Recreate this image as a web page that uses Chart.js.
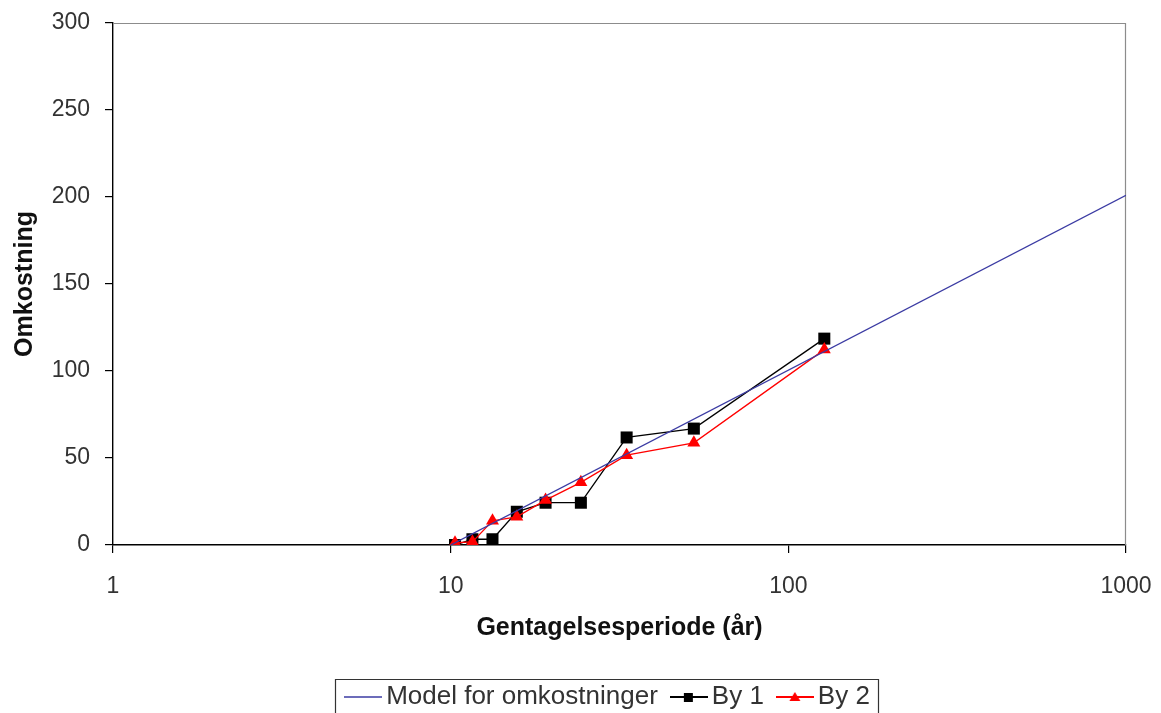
<!DOCTYPE html>
<html>
<head>
<meta charset="utf-8">
<script src="https://cdn.jsdelivr.net/npm/chart.js@4.4.1/dist/chart.umd.min.js"></script>
<style>
  html, body { margin: 0; padding: 0; background: #ffffff; }
  #wrap { width: 1161px; height: 713px; position: relative; }
</style>
</head>
<body>
<div id="wrap"><canvas id="c" width="1161" height="713"></canvas></div>
<script>
// ---- data ----
const periods = [10.3, 11.6, 13.3, 15.7, 19.1, 24.3, 33.2, 52.5, 127.8];
const by1Values = [0, 3.3, 3.3, 19.1, 24.3, 24.3, 61.8, 66.9, 118.6];
const by2Values = [1.3, 1.8, 13.9, 16.2, 25.8, 36, 51.6, 58.7, 112.3];
const modelPeriods = [10, 1000];
const modelValues = [0, 201];
const xTickValues = [1, 10, 100, 1000];
const yTickValues = [0, 50, 100, 150, 200, 250, 300];
const seriesNames = ['Model for omkostninger', 'By 1', 'By 2'];
const xTitle = 'Gentagelsesperiode (år)';
const yTitle = 'Omkostning';

const FONT = '"Liberation Sans", Arial, sans-serif';
const BLUE = '#3b3ba3';
const BLACK = '#000000';
const RED = '#ff0000';

function toPoints(xs, ys) { return xs.map((x, i) => ({ x: x, y: ys[i] })); }

function legendIcon(color, marker) {
  const c = document.createElement('canvas');
  c.width = 38; c.height = 16;
  const g = c.getContext('2d');
  g.strokeStyle = color; g.lineWidth = marker ? 1.8 : 1.4;
  g.beginPath(); g.moveTo(0, 8); g.lineTo(38, 8); g.stroke();
  g.fillStyle = color;
  if (marker === 'rect') { g.fillRect(14, 4, 9, 9); }
  if (marker === 'triangle') {
    g.beginPath(); g.moveTo(19, 3); g.lineTo(24.5, 12); g.lineTo(13.5, 12); g.closePath(); g.fill();
  }
  return c;
}
const icons = [legendIcon(BLUE, null), legendIcon(BLACK, 'rect'), legendIcon(RED, 'triangle')];

const framePlugin = {
  id: 'frame',
  afterLayout(chart) {
    const lg = chart.legend;
    if (lg) { lg.left -= 8; lg.right -= 8; }
  },
  beforeDatasetsDraw(chart) {
    const a = chart.chartArea, ctx = chart.ctx;
    ctx.save();
    ctx.strokeStyle = '#8c8c8c'; ctx.lineWidth = 1.2;
    ctx.beginPath();
    ctx.moveTo(a.left, a.top + 0.5); ctx.lineTo(a.right - 0.5, a.top + 0.5); ctx.lineTo(a.right - 0.5, a.bottom);
    ctx.stroke();
    ctx.restore();
  },
  afterDraw(chart) {
    const lg = chart.legend;
    if (!lg || !lg.legendHitBoxes || !lg.legendHitBoxes.length) return;
    const hb = lg.legendHitBoxes;
    const first = hb[0], last = hb[hb.length - 1];
    const ctx = chart.ctx;
    ctx.save();
    ctx.strokeStyle = '#333333'; ctx.lineWidth = 1.2;
    const l = Math.round(first.left - 18) + 0.5;
    const r = Math.round(last.left + last.width + 8) + 0.5;
    const t = Math.round(first.top - 5) + 0.5;
    ctx.beginPath();
    ctx.moveTo(l, 730); ctx.lineTo(l, t); ctx.lineTo(r, t); ctx.lineTo(r, 730);
    ctx.stroke();
    ctx.restore();
  }
};

new Chart(document.getElementById('c'), {
  type: 'line',
  data: {
    datasets: [
      {
        label: seriesNames[0], data: toPoints(modelPeriods, modelValues),
        borderColor: BLUE, borderWidth: 1.4, pointRadius: 0, order: 0, fill: false
      },
      {
        label: seriesNames[1], data: toPoints(periods, by1Values),
        borderColor: BLACK, backgroundColor: BLACK, borderWidth: 1.3,
        pointStyle: 'rect', pointRadius: 8.5, pointBorderWidth: 0, order: 2, fill: false
      },
      {
        label: seriesNames[2], data: toPoints(periods, by2Values),
        borderColor: RED, backgroundColor: RED, borderWidth: 1.3,
        pointStyle: 'triangle', pointRadius: 7.5, pointBorderWidth: 0, order: 1, fill: false
      }
    ]
  },
  options: {
    responsive: false,
    animation: false,
    devicePixelRatio: 1,
    layout: { padding: { left: 0, right: 35, top: 23, bottom: -7 } },
    plugins: {
      tooltip: { enabled: false },
      legend: {
        display: true,
        position: 'bottom',
        fullSize: false,
        labels: {
          usePointStyle: true,
          pointStyleWidth: 20,
          padding: 21,
          color: '#333333',
          font: { family: FONT, size: 26 },
          generateLabels(chart) {
            return chart.data.datasets.map((ds, i) => ({
              text: ds.label, pointStyle: icons[i], fillStyle: ds.borderColor,
              strokeStyle: ds.borderColor, lineWidth: 0, hidden: false, datasetIndex: i,
              fontColor: '#333333'
            }));
          }
        }
      }
    },
    scales: {
      x: {
        type: 'logarithmic',
        min: 1, max: 1000,
        afterBuildTicks(scale) { scale.ticks = xTickValues.map(v => ({ value: v })); },
        afterFit(scale) { scale.height = 118; scale.paddingLeft = 0; scale.paddingRight = 0; },
        ticks: {
          color: '#333333', padding: 20, maxRotation: 0, autoSkip: false,
          font: { family: FONT, size: 23 },
          callback(v) { return String(v); }
        },
        grid: { display: true, drawOnChartArea: false, drawTicks: true, tickLength: 8, color: BLACK, lineWidth: 1.2 },
        border: { display: true, color: BLACK, width: 1.4 },
        title: {
          display: true, text: xTitle, color: '#111111',
          font: { family: FONT, size: 25, weight: 'bold' },
          padding: { top: 0, bottom: 20 }
        }
      },
      y: {
        type: 'linear',
        min: 0, max: 300,
        afterBuildTicks(scale) { scale.ticks = yTickValues.map(v => ({ value: v })); },
        afterFit(scale) { scale.width = 113; scale.paddingTop = 0; scale.paddingBottom = 0; },
        ticks: {
          color: '#333333', padding: 15,
          font: { family: FONT, size: 23 },
          callback(v) { return String(v); }
        },
        grid: { display: true, drawOnChartArea: false, drawTicks: true, tickLength: 8, color: BLACK, lineWidth: 1.2 },
        border: { display: true, color: BLACK, width: 1.4 },
        title: {
          display: true, text: yTitle, color: '#111111',
          font: { family: FONT, size: 25, weight: 'bold' },
          padding: { top: 10, bottom: 0 }
        }
      }
    }
  },
  plugins: [framePlugin]
});
</script>
</body>
</html>
